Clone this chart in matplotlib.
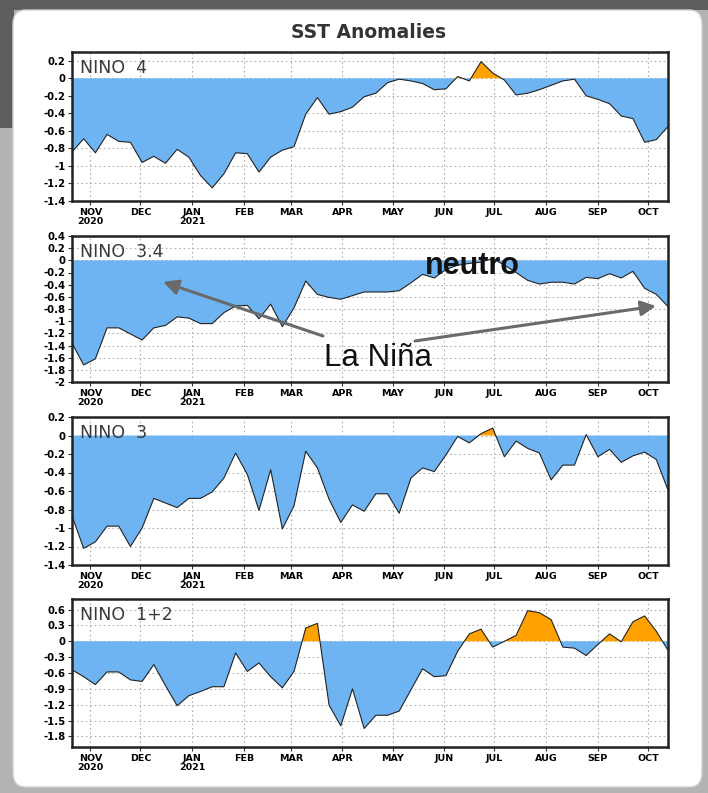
import numpy as np
import pandas as pd
import matplotlib
matplotlib.use('Agg')
import matplotlib.pyplot as plt
from matplotlib.patches import FancyBboxPatch, Rectangle, FancyArrowPatch

# ---------------- data ----------------
start_date = '2020-10-21'
n_weeks = 52
nino4 = [-0.84, -0.69, -0.85, -0.64, -0.72, -0.73, -0.96, -0.89, -0.97, -0.81,
         -0.90, -1.11, -1.25, -1.09, -0.85, -0.86, -1.07, -0.90, -0.82, -0.78,
         -0.41, -0.22, -0.41, -0.38, -0.33, -0.21, -0.17, -0.05, -0.01, -0.03,
         -0.06, -0.13, -0.12, 0.02, -0.03, 0.19, 0.06, -0.02, -0.19, -0.17,
         -0.13, -0.08, -0.03, -0.01, -0.20, -0.24, -0.29, -0.43, -0.46, -0.73,
         -0.70, -0.55]
nino34 = [-1.36, -1.72, -1.62, -1.11, -1.11, -1.21, -1.31, -1.11, -1.07, -0.93,
          -0.95, -1.04, -1.04, -0.86, -0.75, -0.74, -0.96, -0.72, -1.09, -0.78,
          -0.34, -0.56, -0.61, -0.64, -0.58, -0.52, -0.52, -0.52, -0.50, -0.37,
          -0.23, -0.29, -0.15, -0.08, -0.05, -0.03, 0.03, -0.08, -0.20, -0.33,
          -0.39, -0.36, -0.36, -0.39, -0.28, -0.30, -0.22, -0.29, -0.18, -0.46,
          -0.56, -0.76]
nino3 = [-0.87, -1.22, -1.15, -0.98, -0.98, -1.20, -1.00, -0.68, -0.73, -0.78,
         -0.68, -0.68, -0.61, -0.46, -0.19, -0.42, -0.81, -0.37, -1.01, -0.76,
         -0.17, -0.35, -0.69, -0.94, -0.75, -0.82, -0.63, -0.63, -0.84, -0.46,
         -0.35, -0.39, -0.21, -0.01, -0.08, 0.02, 0.08, -0.23, -0.06, -0.14,
         -0.19, -0.48, -0.32, -0.32, 0.01, -0.23, -0.15, -0.29, -0.22, -0.18,
         -0.26, -0.59]
nino12 = [-0.54, -0.67, -0.82, -0.58, -0.58, -0.73, -0.76, -0.44, -0.84, -1.22,
          -1.03, -0.95, -0.86, -0.86, -0.22, -0.57, -0.41, -0.67, -0.88, -0.57,
          0.25, 0.34, -1.21, -1.60, -0.90, -1.65, -1.40, -1.40, -1.32, -0.92,
          -0.52, -0.67, -0.65, -0.19, 0.14, 0.23, -0.11, 0.00, 0.11, 0.58,
          0.54, 0.41, -0.11, -0.13, -0.27, -0.06, 0.14, -0.01, 0.37, 0.48,
          0.19, -0.17]
series = [nino4, nino34, nino3, nino12]
panel_names = ['NINO  4', 'NINO  3.4', 'NINO  3', 'NINO  1+2']
yticks = [
    [0.2, 0, -0.2, -0.4, -0.6, -0.8, -1, -1.2, -1.4],
    [0.4, 0.2, 0, -0.2, -0.4, -0.6, -0.8, -1, -1.2, -1.4, -1.6, -1.8, -2],
    [0.2, 0, -0.2, -0.4, -0.6, -0.8, -1, -1.2, -1.4],
    [0.6, 0.3, 0, -0.3, -0.6, -0.9, -1.2, -1.5, -1.8],
]
ylims = [(-1.4, 0.3), (-2.0, 0.4), (-1.4, 0.2), (-2.0, 0.8)]
month_labels = ['NOV\n2020', 'DEC', 'JAN\n2021', 'FEB', 'MAR', 'APR', 'MAY',
                'JUN', 'JUL', 'AUG', 'SEP', 'OCT']
title = 'SST Anomalies'

dates = pd.date_range(start_date, periods=n_weeks, freq='7D')
month_starts = pd.date_range('2020-11-01', periods=len(month_labels), freq='MS')

# ---------------- layout ----------------
W, H = 708, 793
fig = plt.figure(figsize=(W / 100, H / 100), dpi=100)
fig.patch.set_facecolor('#b3b3b3')

def fx(px):
    return px / W

def fy(py):
    return 1 - py / H

# dark top-left background region
fig.add_artist(Rectangle((0, fy(10)), 1, 10 / H, transform=fig.transFigure,
                         facecolor='#5e5e5e', edgecolor='none', zorder=0))
fig.add_artist(Rectangle((0, fy(128)), fx(14), 128 / H, transform=fig.transFigure,
                         facecolor='#5e5e5e', edgecolor='none', zorder=0))
# white card
card = FancyBboxPatch((fx(13), fy(787)), fx(702 - 13), (787 - 10) / H,
                      boxstyle='round,pad=0,rounding_size=0.018',
                      transform=fig.transFigure, facecolor='white',
                      edgecolor='#d0d0d0', linewidth=1.0, zorder=0.5)
fig.add_artist(card)

panels_px = [(52, 201), (236, 382), (417, 565), (599, 747)]
left_px, right_px = 72, 668

blue = '#6fb4f2'
orange = '#ffa200'
ytick_font = dict(family=['DejaVu Sans'], weight='bold', size=7.3)
xtick_font = dict(family=['DejaVu Sans'], weight='bold', size=6.8)

for i, (vals, name, yt, yl, (top, bot)) in enumerate(
        zip(series, panel_names, yticks, ylims, panels_px)):
    ax = fig.add_axes([fx(left_px), fy(bot), fx(right_px - left_px), (bot - top) / H])
    ax.set_zorder(2)
    v = np.array(vals)
    ax.fill_between(dates, v, 0, where=v <= 0, interpolate=True,
                    facecolor=blue, edgecolor='none', zorder=2)
    ax.fill_between(dates, v, 0, where=v >= 0, interpolate=True,
                    facecolor=orange, edgecolor='none', zorder=2)
    ax.plot(dates, v, color='#222222', lw=0.8, zorder=3)
    ax.set_xlim(dates[0], dates[-1])
    ax.set_ylim(*yl)
    ax.set_yticks(yt)
    ax.set_yticklabels([f'{t:g}' for t in yt], fontdict=ytick_font)
    ax.set_xticks(month_starts)
    ax.set_xticklabels(month_labels, fontdict=xtick_font, linespacing=0.95)
    ax.tick_params(axis='both', length=3, width=0.8, pad=2, color='#333333')
    ax.tick_params(axis='y', pad=1.5)
    ax.grid(True, color='#b0b0b0', linestyle=(0, (1.5, 2.5)), linewidth=0.8, zorder=1)
    ax.set_axisbelow(True)
    for sp in ax.spines.values():
        sp.set_linewidth(1.8)
        sp.set_color('#222222')
    ax.text(0.013, 0.95, name, transform=ax.transAxes, ha='left', va='top',
            fontsize=12.5, color='#3a3a3a', family=['DejaVu Sans'], zorder=5)

fig.text(fx(369), fy(33), title, ha='center', va='center', fontsize=13.5,
         weight='bold', color='#333333', family=['DejaVu Sans'])

# annotations
fig.text(fx(472), fy(266), 'neutro', ha='center', va='center', fontsize=22,
         weight='bold', color='#111111', family=['Liberation Sans', 'DejaVu Sans'],
         zorder=10)
fig.text(fx(378), fy(358), 'La Niña', ha='center', va='center', fontsize=22.5,
         color='#111111', family=['Liberation Sans', 'DejaVu Sans'], zorder=10)

arrow_style = dict(arrowstyle='-|>,head_length=9,head_width=4.5', color='#6a6a6a',
                   linewidth=2.2, transform=fig.transFigure, zorder=10,
                   shrinkA=0, shrinkB=0)
fig.add_artist(FancyArrowPatch((fx(323), fy(336)), (fx(163), fy(282)), **arrow_style))
fig.add_artist(FancyArrowPatch((fx(415), fy(341)), (fx(656), fy(306)), **arrow_style))

fig.savefig('out.png', dpi=100, facecolor=fig.get_facecolor())
